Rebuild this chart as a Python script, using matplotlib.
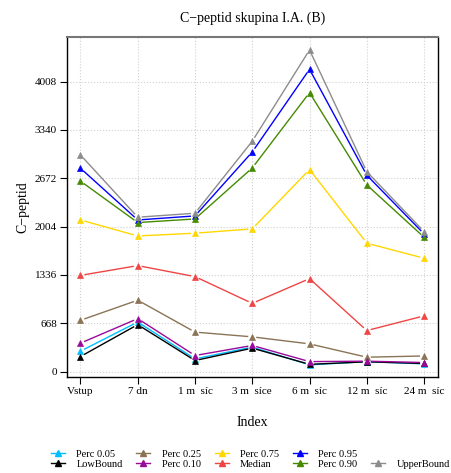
import numpy as np
import matplotlib
matplotlib.use("Agg")
import matplotlib.pyplot as plt
from matplotlib.lines import Line2D

plt.rcParams['font.family'] = ['Liberation Serif', 'DejaVu Serif']

# time points
labels = ["Vstup", "7 dn", "1 m  síc", "3 m  síce", "6 m  síc", "12 m  síc", "24 m  síc"]

# C-peptid values
upper = [2995, 2134, 2189, 3185, 4446, 2764, 1935]
p95 = [2811, 2096, 2152, 3036, 4179, 2715, 1903]
p90 = [2633, 2060, 2110, 2815, 3856, 2580, 1857]
p75 = [2096, 1875, 1913, 1973, 2793, 1775, 1567]
median = [1330, 1465, 1313, 943, 1285, 567, 770]
p25 = [709, 987, 546, 480, 383, 199, 216]
p10 = [393, 732, 222, 361, 138, 144, 125]
p05 = [282, 685, 176, 338, 93, 138, 106]
low = [208, 649, 153, 324, 100, 135, 112]

yticks = [0, 668, 1336, 2004, 2672, 3340, 4008]

series = [
    ("Perc 0.05", p05, "#00BFFF"),
    ("LowBound", low, "black"),
    ("Perc 0.25", p25, "#8B7355"),
    ("Perc 0.10", p10, "#9A0A9A"),
    ("Perc 0.75", p75, "#FFD700"),
    ("Median", median, "#F04545"),
    ("Perc 0.95", p95, "#0000FF"),
    ("Perc 0.90", p90, "#458B00"),
    ("UpperBound", upper, "#8C8C8C"),
]

fig = plt.figure(figsize=(4.52, 4.73), dpi=100)
ax = fig.add_axes([0.1476, 0.202, 0.821, 0.719])

x = np.arange(len(labels))
allv = np.concatenate([s[1] for s in series])
lo, hi = allv.min(), allv.max()
r = hi - lo
ax.set_xlim(-0.04 * 6, 6 + 0.04 * 6)
ax.set_ylim(lo - 0.04 * r, hi + 0.04 * r)

# lines with small gaps around points (like R type="b")
gap = 4.0
inv = ax.transData.inverted()
for name, vals, col in series:
    pts = ax.transData.transform(np.column_stack([x, vals]))
    for i in range(len(pts) - 1):
        p0, p1 = pts[i], pts[i + 1]
        d = p1 - p0
        L = np.hypot(*d)
        u = d / L
        seg = inv.transform(np.array([p0 + u * gap, p1 - u * gap]))
        ax.plot(seg[:, 0], seg[:, 1], color=col, lw=1.0, solid_capstyle='butt')
    ax.plot(x, vals, linestyle='none', marker='^', color=col, markersize=4.5,
            markeredgewidth=0.5)

ax.set_xticks(x)
ax.set_xticklabels(labels)
ax.set_yticks(yticks)
ax.tick_params(direction='out', length=5, width=0.8, labelsize=8, pad=2, colors='black')
ax.grid(color='#d0d0d0', linestyle=':', linewidth=0.8)
ax.set_axisbelow(True)
for s in ['left', 'right', 'bottom']:
    ax.spines[s].set_color('black')
    ax.spines[s].set_linewidth(1.0)
ax.spines['top'].set_color('#777777')
ax.spines['top'].set_linewidth(1.5)

ax.set_title("C\u2212peptid skupina I.A. (B)", fontsize=10, pad=11)
ax.set_ylabel("C\u2212peptid", fontsize=10, labelpad=4)
ax.set_xlabel("Index", fontsize=10, labelpad=14)

# legend: 5 columns, UpperBound sits in the second row of the last column
handles = []
names = []
for name, vals, col in series:
    if name == "UpperBound":
        handles.append(Line2D([], [], linestyle='none'))
        names.append("")
    handles.append(Line2D([], [], color=col, lw=1.0, marker='^', markersize=4.5))
    names.append(name)
fig.legend(handles, names, ncol=5, loc='center', bbox_to_anchor=(0.554, 0.029),
           frameon=False, fontsize=7.5, handlelength=1.35, handletextpad=1.1,
           columnspacing=1.3, labelspacing=0.05, borderpad=0)

fig.savefig("out.png", dpi=100)
